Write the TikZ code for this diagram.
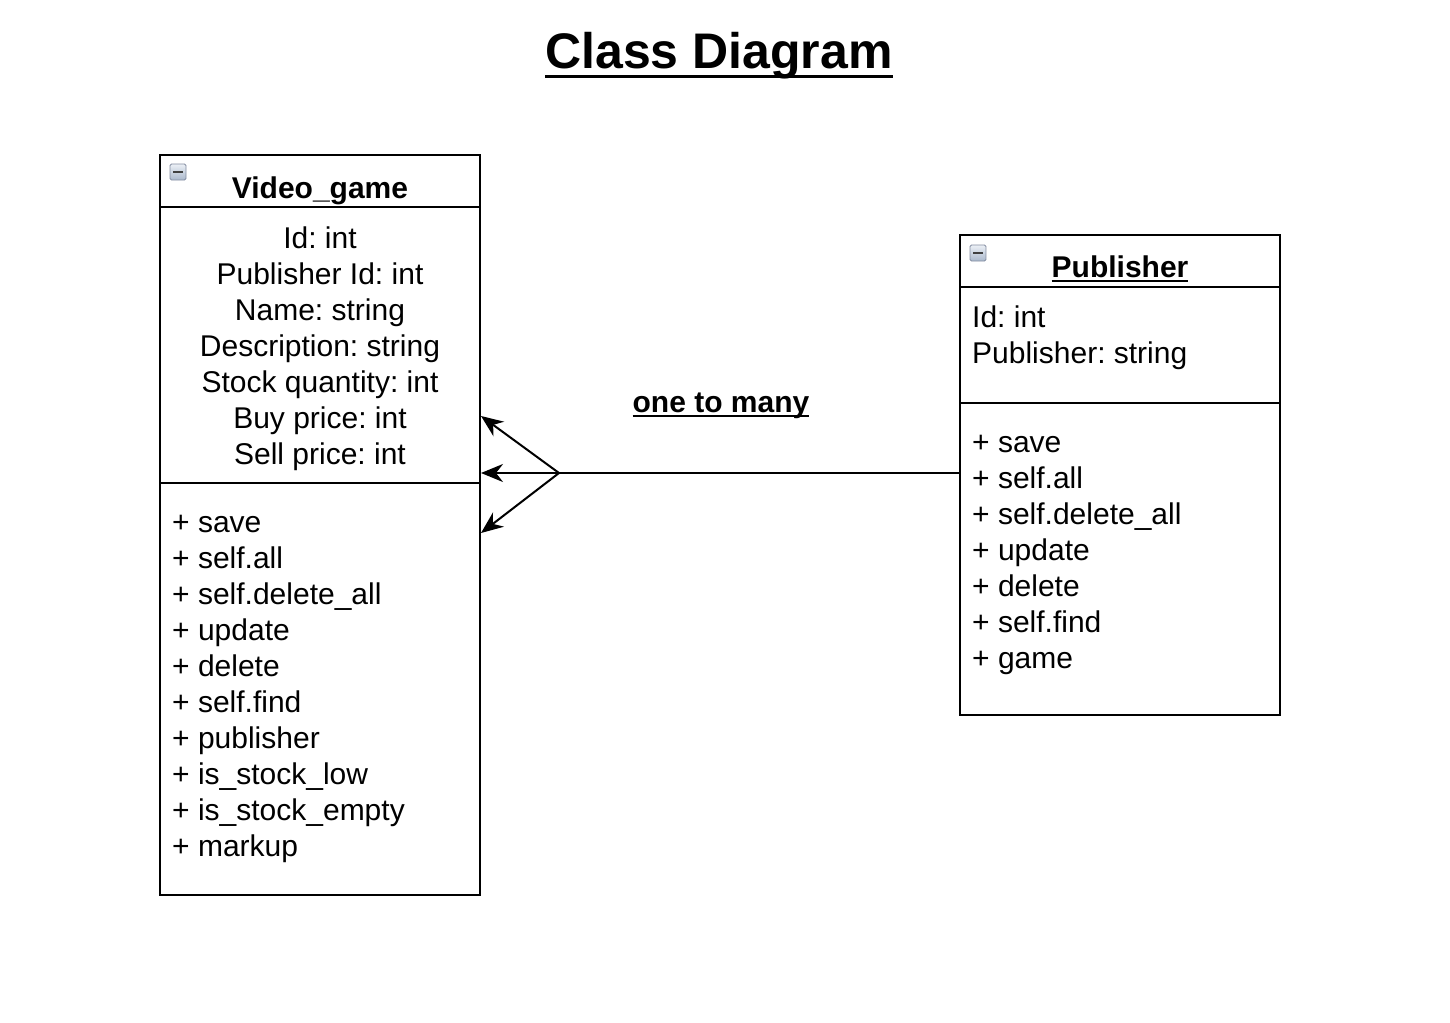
\documentclass[tikz,border=0pt]{standalone}
\usepackage{fontspec}
\setmainfont{Liberation Sans}
\usetikzlibrary{arrows.meta,calc}
\frenchspacing
\newcommand{\myul}[3]{\setbox0\hbox{#1}\rlap{\vrule height -#2 depth \dimexpr#2+#3\relax width \wd0}\box0}
\definecolor{iconlight}{RGB}{236,240,246}
\definecolor{icondark}{RGB}{170,184,204}
\definecolor{iconedge}{RGB}{130,140,160}
\begin{document}
\begin{tikzpicture}[x=1pt,y=-1pt,
  classbox/.style={draw=black, line width=2pt, minimum width=320pt, inner sep=0pt},
  body/.style={font=\fontsize{30}{36}\selectfont, inner sep=0pt},
  bodybold/.style={font=\fontsize{30}{36}\selectfont\bfseries, inner sep=0pt},
  icon/.style={draw=iconedge, line width=0.8pt, top color=iconlight, bottom color=icondark, minimum size=16pt, inner sep=0pt, rounded corners=1.5pt},
  link/.style={line width=2pt, draw=black},
  arrowlink/.style={link, -{Stealth[length=22pt,width=18pt,inset=7pt]}}
]
\useasboundingbox (0,0) rectangle (1450,1022);

% Title
\node[anchor=base, inner sep=0pt, font=\fontsize{50}{56}\selectfont\bfseries] (title) at (719,69) {\myul{Class Diagram}{6pt}{3.5pt}};

% Video_game class
\node[classbox, minimum height=52pt] (vgHead) at (320,181) {};
\node[classbox, minimum height=276pt] (vgAttr) at (320,345) {};
\node[classbox, minimum height=412pt] (vgMeth) at (320,689) {};
\node[icon] (vgIcon) at (178,172) {};
\fill[black!75] ($(vgIcon.center)+(-5,-1.3)$) rectangle ($(vgIcon.center)+(5,1.3)$);
\node[bodybold, anchor=base] (vgName) at (320,198) {Video\_game};

\foreach \t [count=\i from 0] in {Id: int, Publisher Id: int, Name: string, Description: string, Stock quantity: int, Buy price: int, Sell price: int}
  \node[body, anchor=base] (vga\i) at (320,248+36*\i) {\t};

\foreach \t [count=\i from 0] in {save, self.all, self.delete\_all, update, delete, self.find, publisher, is\_stock\_low, is\_stock\_empty, markup}
  \node[body, anchor=base west] (vgm\i) at (172,532+36*\i) {+ \t};

% Publisher class
\node[classbox, minimum height=52pt] (pubHead) at (1120,261) {};
\node[classbox, minimum height=116pt] (pubAttr) at (1120,345) {};
\node[classbox, minimum height=312pt] (pubMeth) at (1120,559) {};
\node[icon] (pubIcon) at (978,253) {};
\fill[black!75] ($(pubIcon.center)+(-5,-1.3)$) rectangle ($(pubIcon.center)+(5,1.3)$);
\node[bodybold, anchor=base] (pubName) at (1120,277) {\myul{Publisher}{2.5pt}{2.5pt}};

\foreach \t [count=\i from 0] in {Id: int, Publisher: string}
  \node[body, anchor=base west] (puba\i) at (972,327+36*\i) {\t};

\foreach \t [count=\i from 0] in {save, self.all, self.delete\_all, update, delete, self.find, game}
  \node[body, anchor=base west] (pubm\i) at (972,452+36*\i) {+ \t};

% Association
\coordinate (fork) at (559,473);
\coordinate (tUp) at (481,416);
\coordinate (tMid) at (481,473);
\coordinate (tLow) at (481,533);
\draw[link] (pubMeth.west |- fork) -- (fork);
\draw[arrowlink] (fork) -- (tUp);
\draw[arrowlink] (fork) -- (tMid);
\draw[arrowlink] (fork) -- (tLow);
\node[bodybold, anchor=base] (assocLabel) at (721,412) {\myul{one to many}{3pt}{2pt}};
\end{tikzpicture}
\end{document}
